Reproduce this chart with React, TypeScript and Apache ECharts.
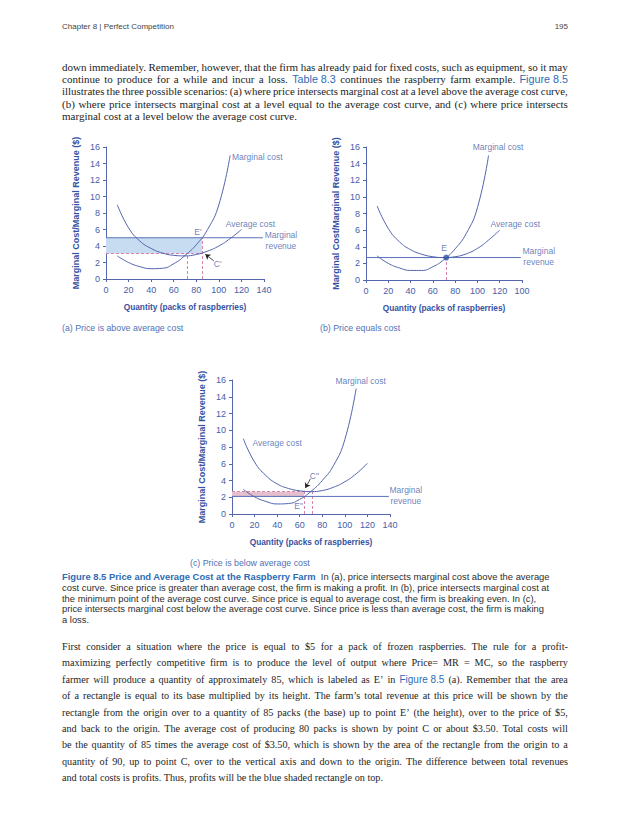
import React, { useEffect, useLayoutEffect, useRef } from 'react';
import * as echarts from 'echarts';

// ---------- data ----------
const xTickLabelsA = ['0', '20', '40', '60', '80', '100', '120', '140'];
const xTickLabelsB = ['0', '20', '40', '60', '80', '100', '120', '100'];
const xTickLabelsC = ['0', '20', '40', '60', '80', '100', '120', '140'];

// (a) price above average cost
const mcAx = [10, 20, 30, 40, 50, 60, 70, 80, 90, 100, 110];
const mcAy = [2.8, 2.0, 1.5, 1.25, 1.3, 1.85, 2.85, 4.15, 6.0, 9.0, 15];
const acAx = [10, 20, 30, 40, 50, 60, 70, 80, 90, 100, 110, 120];
const acAy = [9.0, 6.2, 4.6, 3.7, 3.15, 2.87, 2.8, 2.97, 3.38, 4.0, 4.9, 6.0];
const mrA = 5;
const acAtQA = 3.1;
const qA = 85;
const qMinA = 72;

// (b) price equals cost
const mcBx = [10, 20, 30, 40, 50, 60, 70, 80, 90, 100, 110];
const mcBy = [2.9, 2.0, 1.45, 1.15, 1.15, 1.6, 2.45, 3.75, 5.6, 8.7, 15];
const acBx = [10, 20, 30, 40, 50, 60, 70, 80, 90, 100, 110, 120];
const acBy = [8.9, 6.2, 4.6, 3.65, 3.1, 2.8, 2.7, 2.8, 3.15, 3.8, 4.8, 6.0];
const mrB = 2.7;
const qB = 72;

// (c) price below average cost
const mcCx = [10, 20, 30, 40, 50, 60, 70, 80, 90, 100, 110];
const mcCy = [2.95, 2.05, 1.5, 1.2, 1.25, 1.75, 2.7, 4.0, 5.8, 8.9, 15];
const acCx = [10, 20, 30, 40, 50, 60, 70, 80, 90, 100, 110, 120];
const acCy = [9.0, 6.2, 4.6, 3.6, 3.05, 2.77, 2.67, 2.8, 3.2, 3.85, 4.8, 6.05];
const mrC = 2.1;
const acAtQC = 2.67;
const qC = 64;
const qMinC = 71.5;

// ---------- text ----------
const para1 = [
  'down immediately. Remember, however, that the firm has already paid for fixed costs, such as equipment, so it may',
  'continue to produce for a while and incur a loss. {Table 8.3} continues the raspberry farm example. {Figure 8.5}',
  'illustrates the three possible scenarios: (a) where price intersects marginal cost at a level above the average cost curve,',
  '(b) where price intersects marginal cost at a level equal to the average cost curve, and (c) where price intersects',
  'marginal cost at a level below the average cost curve.',
];
const captionLines = [
  '{Figure 8.5 Price and Average Cost at the Raspberry Farm}  In (a), price intersects marginal cost above the average',
  'cost curve. Since price is greater than average cost, the firm is making a profit. In (b), price intersects marginal cost at',
  'the minimum point of the average cost curve. Since price is equal to average cost, the firm is breaking even. In (c),',
  'price intersects marginal cost below the average cost curve. Since price is less than average cost, the firm is making',
  'a loss.',
];
const para2 = [
  'First consider a situation where the price is equal to $5 for a pack of frozen raspberries. The rule for a profit-',
  'maximizing perfectly competitive firm is to produce the level of output where Price= MR = MC, so the raspberry',
  'farmer will produce a quantity of approximately 85, which is labeled as E’ in {Figure 8.5} (a). Remember that the area',
  'of a rectangle is equal to its base multiplied by its height. The farm’s total revenue at this price will be shown by the',
  'rectangle from the origin over to a quantity of 85 packs (the base) up to point E’ (the height), over to the price of $5,',
  'and back to the origin. The average cost of producing 80 packs is shown by point C or about $3.50. Total costs will',
  'be the quantity of 85 times the average cost of $3.50, which is shown by the area of the rectangle from the origin to a',
  'quantity of 90, up to point C, over to the vertical axis and down to the origin. The difference between total revenues',
  'and total costs is profits. Thus, profits will be the blue shaded rectangle on top.',
];

const pair = (xs: number[], ys: number[]) => xs.map((x, i) => [x, ys[i]]);

const SANS = 'Liberation Sans, Arial, sans-serif';
const SERIF = 'Liberation Serif, Times New Roman, serif';
const axisColor = '#5466ae';
const tickColor = '#4560aa';
const curveColor = '#5364ad';
const nameColor = '#3652a2';
const pink = '#d985ab';

function buildOption() {
  const grids = [
    { left: 106, top: 147, width: 158, height: 132 },
    { left: 366, top: 147, width: 156, height: 133 },
    { left: 232, top: 380, width: 158, height: 134 },
  ];
  const tickSets = [xTickLabelsA, xTickLabelsB, xTickLabelsC];
  const xAxis = grids.map((_, i) => ({
    gridIndex: i,
    type: 'value',
    min: 0,
    max: 140,
    interval: 20,
    axisLine: { show: true, onZero: false, lineStyle: { color: axisColor, width: 1 } },
    axisTick: { show: true, length: 3, lineStyle: { color: axisColor } },
    axisLabel: {
      color: tickColor,
      fontSize: 9,
      fontFamily: SANS,
      margin: 6,
      formatter: (v: number) => tickSets[i][Math.round(v / 20)],
    },
    splitLine: { show: false },
    name: 'Quantity (packs of raspberries)',
    nameLocation: 'middle',
    nameGap: 24,
    nameTextStyle: { color: nameColor, fontWeight: 'bold', fontSize: 8.3, fontFamily: SANS },
  }));
  const yAxis = grids.map((_, i) => ({
    gridIndex: i,
    type: 'value',
    min: 0,
    max: 16,
    interval: 2,
    axisLine: { show: true, lineStyle: { color: axisColor, width: 1 } },
    axisTick: { show: true, length: 3, lineStyle: { color: axisColor } },
    axisLabel: { color: tickColor, fontSize: 9, fontFamily: SANS, margin: 6 },
    splitLine: { show: false },
    name: 'Marginal Cost/Marginal Revenue ($)',
    nameLocation: 'middle',
    nameGap: 26,
    nameRotate: 90,
    nameTextStyle: { color: nameColor, fontWeight: 'bold', fontSize: 9, fontFamily: SANS },
  }));

  const curve = (i: number, data: number[][]) => ({
    type: 'line',
    xAxisIndex: i,
    yAxisIndex: i,
    data,
    smooth: 0.5,
    symbol: 'none',
    lineStyle: { color: curveColor, width: 1 },
    z: 3,
    silent: true,
  });
  const mrLine = (i: number, mr: number, areaColor?: string, area?: number[][]) => ({
    type: 'line',
    xAxisIndex: i,
    yAxisIndex: i,
    data: [[0, mr], [139, mr]],
    symbol: 'none',
    lineStyle: { color: '#5a72b8', width: 1 },
    z: 2,
    silent: true,
    markArea: area
      ? {
          silent: true,
          itemStyle: { color: areaColor },
          data: [[{ coord: area[0] }, { coord: area[1] }]],
        }
      : undefined,
  });
  const dashed = (i: number, segs: number[][][]) => ({
    type: 'lines',
    coordinateSystem: 'cartesian2d',
    xAxisIndex: i,
    yAxisIndex: i,
    data: segs.map((s) => ({ coords: s })),
    lineStyle: { color: pink, width: 1, type: [3, 2], opacity: 1 },
    z: 2,
    silent: true,
  });
  const arrow = (i: number, from: number[], to: number[]) => ({
    type: 'lines',
    coordinateSystem: 'cartesian2d',
    xAxisIndex: i,
    yAxisIndex: i,
    data: [{ coords: [from, to] }],
    symbol: ['none', 'arrow'],
    symbolSize: 5,
    lineStyle: { color: '#222', width: 0.8, opacity: 1 },
    z: 4,
    silent: true,
  });
  const notes = (i: number, items: { t: string; x: number; y: number }[]) => ({
    type: 'scatter',
    xAxisIndex: i,
    yAxisIndex: i,
    clip: false,
    silent: true,
    symbolSize: 1,
    itemStyle: { color: 'rgba(0,0,0,0)' },
    z: 6,
    data: items.map((a) => ({ value: [a.x, a.y], label: { formatter: a.t } })),
    label: {
      show: true,
      position: 'inside',
      color: tickColor,
      fontSize: 8.5,
      lineHeight: 11,
      fontFamily: SANS,
      align: 'center',
      verticalAlign: 'middle',
    },
  });

  const series: any[] = [
    // (a)
    mrLine(0, mrA, '#c7dcf1', [[0, mrA], [qA, acAtQA]]),
    dashed(0, [
      [[0, acAtQA], [qA, acAtQA]],
      [[qMinA, 0], [qMinA, acAtQA]],
      [[qA, 0], [qA, mrA]],
    ]),
    curve(0, pair(mcAx, mcAy)),
    curve(0, pair(acAx, acAy)),
    arrow(0, [95.5, 2.2], [88, 3.0]),
    notes(0, [
      { t: 'Marginal cost', x: 134, y: 14.8 },
      { t: 'Average cost', x: 128, y: 6.7 },
      { t: 'Marginal\nrevenue', x: 155, y: 4.7 },
      { t: "E'", x: 81.5, y: 5.7 },
      { t: "C'", x: 99, y: 1.8 },
    ]),
    // (b)
    mrLine(1, mrB),
    dashed(1, [[[qB, 0], [qB, mrB]]]),
    curve(1, pair(mcBx, mcBy)),
    curve(1, pair(acBx, acBy)),
    {
      type: 'scatter',
      xAxisIndex: 1,
      yAxisIndex: 1,
      data: [[qB, mrB]],
      symbolSize: 6,
      itemStyle: { color: '#2f54a4' },
      z: 5,
      silent: true,
    },
    notes(1, [
      { t: 'Marginal cost', x: 118.5, y: 16 },
      { t: 'Average cost', x: 134, y: 6.7 },
      { t: 'Marginal\nrevenue', x: 155, y: 2.8 },
      { t: 'E', x: 70, y: 3.9 },
    ]),
    // (c)
    mrLine(2, mrC, '#e6bfcd', [[0, acAtQC], [qC, mrC]]),
    dashed(2, [
      [[0, acAtQC], [qMinC, acAtQC]],
      [[qC, 0], [qC, acAtQC]],
      [[qMinC, 0], [qMinC, acAtQC]],
    ]),
    curve(2, pair(mcCx, mcCy)),
    curve(2, pair(acCx, acCy)),
    arrow(2, [69.5, 4.2], [65, 3.1]),
    notes(2, [
      { t: 'Marginal cost', x: 114, y: 15.9 },
      { t: 'Average cost', x: 40, y: 8.45 },
      { t: 'Marginal\nrevenue', x: 154, y: 2.2 },
      { t: 'C"', x: 73, y: 4.55 },
      { t: 'E"', x: 59, y: 0.9 },
    ]),
  ];

  return { animation: false, grid: grids, xAxis, yAxis, series };
}

// ---------- text helpers ----------
function parse(line: string) {
  return line.split(/(\{[^}]+\})/).filter((s) => s.length > 0).map((s) =>
    s.startsWith('{') ? { t: s.slice(1, -1), link: true } : { t: s, link: false }
  );
}

function JustLine({ line, top, justify, size, lh }: { line: string; top: number; justify: boolean; size: number; lh: number }) {
  const segs = parse(line);
  const linkStyle: React.CSSProperties = { fontFamily: SANS, color: '#2d6cb4', fontSize: size * 0.98 };
  const base: React.CSSProperties = {
    position: 'absolute',
    left: 62,
    width: 506,
    top: top - lh / 2,
    height: lh,
    lineHeight: lh + 'px',
    whiteSpace: 'nowrap',
    fontFamily: SERIF,
    fontSize: size,
    color: '#1e1e1e',
    transformOrigin: '0 50%',
  };
  if (!justify) {
    return (
      <div style={base}>
        {segs.map((s, i) => (
          <span key={i} style={s.link ? linkStyle : undefined}>{s.t}</span>
        ))}
      </div>
    );
  }
  const items: { t: string; link: boolean }[] = [];
  segs.forEach((s) => {
    if (s.link) items.push(s);
    else s.t.split(' ').filter(Boolean).forEach((w) => items.push({ t: w, link: false }));
  });
  return (
    <div data-fit="1" style={{ ...base, display: 'flex', justifyContent: 'space-between' }}>
      {items.map((s, i) => (
        <span key={i} style={s.link ? linkStyle : undefined}>{s.t}</span>
      ))}
    </div>
  );
}

export default function App() {
  const ref = useRef<HTMLDivElement>(null);
  const pageRef = useRef<HTMLDivElement>(null);
  useEffect(() => {
    const chart = echarts.init(ref.current!, null, { renderer: 'svg' });
    chart.setOption(buildOption() as any);
    return () => chart.dispose();
  }, []);
  useLayoutEffect(() => {
    const els = pageRef.current!.querySelectorAll('[data-fit]');
    els.forEach((el) => {
      const e = el as HTMLElement;
      const spans = Array.from(e.children) as HTMLElement[];
      let total = 0;
      spans.forEach((s) => (total += s.getBoundingClientRect().width));
      const minGap = 2.2 * (spans.length - 1);
      const need = total + minGap;
      if (need > 506) {
        e.style.width = need + 'px';
        e.style.transform = `scaleX(${506 / need})`;
      }
    });
  }, []);

  const p1Top = 67;
  const p1Gap = 12.3;
  const capTop = 577;
  const capGap = 10.8;
  const p2Top = 647;
  const p2Gap = 16.4;
  const subCap: React.CSSProperties = {
    position: 'absolute',
    fontFamily: SANS,
    fontSize: 8.8,
    color: '#4f72b8',
    whiteSpace: 'nowrap',
    lineHeight: '12px',
  };

  return (
    <div ref={pageRef} style={{ position: 'absolute', left: 0, top: 0, width: 630, height: 815, background: '#fff', overflow: 'hidden' }}>
      <div ref={ref} style={{ position: 'absolute', left: 0, top: 0, width: 630, height: 815 }} />
      <div style={{ position: 'absolute', left: 62, top: 21, fontFamily: SANS, fontSize: 8, color: '#444', lineHeight: '12px', whiteSpace: 'nowrap' }}>
        Chapter 8 | Perfect Competition
      </div>
      <div style={{ position: 'absolute', right: 62, top: 21, fontFamily: SANS, fontSize: 8, color: '#444', lineHeight: '12px' }}>195</div>
      {para1.map((l, i) => (
        <JustLine key={'a' + i} line={l} top={p1Top + i * p1Gap} justify={i < para1.length - 1} size={11} lh={12.3} />
      ))}
      <div style={{ ...subCap, left: 62, top: 322 }}>(a) Price is above average cost</div>
      <div style={{ ...subCap, left: 320, top: 322 }}>(b) Price equals cost</div>
      <div style={{ ...subCap, left: 190, top: 557 }}>(c) Price is below average cost</div>
      {captionLines.map((l, i) => (
        <div
          key={'c' + i}
          style={{
            position: 'absolute',
            left: 62,
            top: capTop + i * capGap - 6,
            lineHeight: '12px',
            fontFamily: SANS,
            fontSize: 9.4,
            color: '#2e2e2e',
            whiteSpace: 'pre',
          }}
        >
          {parse(l).map((s, j) => (
            <span key={j} style={s.link ? { color: '#2d6cb4', fontWeight: 'bold' } : undefined}>{s.t}</span>
          ))}
        </div>
      ))}
      {para2.map((l, i) => (
        <JustLine key={'b' + i} line={l} top={p2Top + i * p2Gap} justify={i < para2.length - 1} size={10.2} lh={14} />
      ))}
    </div>
  );
}
